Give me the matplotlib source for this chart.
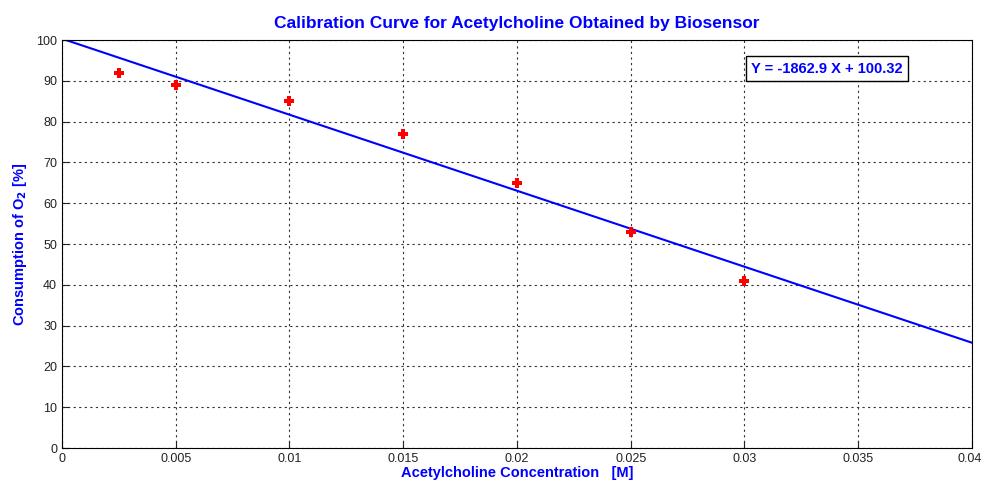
import matplotlib
matplotlib.use('Agg')
import matplotlib.pyplot as plt
import matplotlib.transforms as mtransforms
import numpy as np

plt.rcParams['font.family'] = ['Liberation Sans', 'DejaVu Sans']

# Data
conc = [0.0025, 0.005, 0.01, 0.015, 0.02, 0.025, 0.03]
consumption = [92, 89, 85, 77, 65, 53, 41]
slope = -1862.9
intercept = 100.32
x_line = [0, 0.04]

fig = plt.figure(figsize=(9.82, 4.82), dpi=100)
ax = fig.add_axes([0.0631, 0.0705, 0.9267, 0.8465])

y_line = [slope * v + intercept for v in x_line]
ax.plot(x_line, y_line, color='blue', linewidth=1.5)
ax.plot(conc, consumption, linestyle='none', marker='P', color='red',
        markersize=7, markeredgewidth=0)

ax.set_xlim(0, 0.04)
ax.set_ylim(0, 100)
ax.set_xticks(np.arange(0, 0.0401, 0.005))
ax.set_xticklabels(['0', '0.005', '0.01', '0.015', '0.02', '0.025', '0.03', '0.035', '0.04'])
ax.set_yticks(np.arange(0, 101, 10))
ax.tick_params(direction='in', labelsize=9, length=5, colors='#222222')
ax.grid(True, linestyle=(0, (2, 3)), color='#333333', linewidth=0.8)
for s in ax.spines.values():
    s.set_color('black')

# keep last x tick label inside the figure
last = ax.get_xticklabels()[-1]
last.set_horizontalalignment('right')
last.set_transform(last.get_transform() +
                   mtransforms.ScaledTranslation(10 / 100, 0, fig.dpi_scale_trans))

ax.set_title('Calibration Curve for Acetylcholine Obtained by Biosensor',
             color='blue', fontweight='bold', fontsize=12.5, pad=9)
ax.set_xlabel('Acetylcholine Concentration   [M]', color='blue',
              fontweight='bold', fontsize=10.5, labelpad=1)
ax.set_ylabel('Consumption of O$_\\mathbf{2}$ [%]', color='blue',
              fontweight='bold', fontsize=10.5, labelpad=5)

ax.text(0.0303, 93, 'Y = -1862.9 X + 100.32', color='blue', fontweight='bold',
        fontsize=10.5, va='center', ha='left',
        bbox=dict(boxstyle='square,pad=0.35', facecolor='white', edgecolor='black', linewidth=1))

fig.savefig('out.png', dpi=100)
